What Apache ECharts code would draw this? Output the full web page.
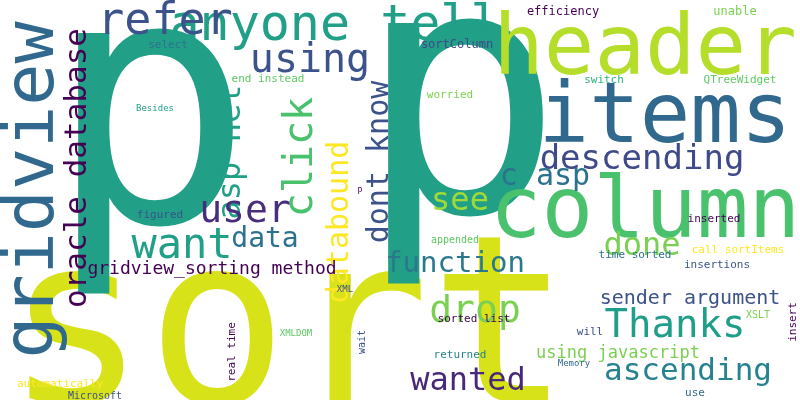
<!DOCTYPE html>
<html>
<head>
<meta charset="utf-8">
<script src="https://cdn.jsdelivr.net/npm/echarts@6/dist/echarts.min.js"></script>
<style>html,body{margin:0;padding:0;background:#fff}#chart{width:800px;height:400px}</style>
</head>
<body>
<div id="chart"></div>
<script>
// word cloud data (word, centre x, centre y, font size, rotation, colour)
const words = ['sort','p','p','header','items','column','gridview','anyone tell','refer','using',
  'oracle database','asp net','click','user','want','data','databound','dont know','descending','c asp',
  'see','function','done','Thanks','drop','sender argument','ascending','wanted','using javascript','gridview_sorting method',
  'efficiency','unable','select','sortColumn','switch','QTreeWidget','end instead','worried','Besides','current',
  'figured','inserted','P','appended','time sorted','call sortItems','insertions','insert','XML','XSLT',
  'sorted list','XMLDOM','will','wait','returned','real time','Memory','automatically','Microsoft','use'];
const xs = [288,150,460,645,665,645,35,335,165,310,
  78,232,302,245,182,265,340,380,642,545,
  460,455,642,675,475,690,688,468,618,212,
  563,735,168,457,604,740,268,450,155,218,
  160,714,360,455,635,738,717,793,345,758,
  474,296,590,362,460,232,574,60,95,695];
const ys = [342,132,122,52,120,215,190,27,22,62,
  168,152,157,212,247,240,222,162,160,177,
  202,264,247,327,312,299,372,382,354,269,
  12,12,45,45,80,80,79,95,109,162,
  215,219,192,240,255,250,265,322,290,315,
  319,334,332,342,355,352,364,384,396,393];
const sizes = [235,345,345,84,84,86,70,50,45,40,
  31,32,40,38,42,28,30,30,34,30,
  32,29,32,39,38,20,31,32,17,18,
  12,12,11,12,11,11,11,11,9,10,
  11,11,8,10,11,11,11,11,9,10,
  11,9,11,10,11,11,9,11,10,11];
const rotations = [0,0,0,0,0,0,90,0,0,0,
  90,90,90,0,0,0,90,90,0,0,
  0,0,0,0,0,0,0,0,0,0,
  0,0,0,0,0,0,0,0,0,90,
  0,0,0,0,0,0,0,90,0,0,
  0,0,0,90,0,90,0,0,0,0];
const colors = ['#d8e219','#21a087','#21a087','#b5de2b','#31688e','#4ac16d','#31688e','#21a087','#3b528b','#3b528b',
  '#440154','#21a087','#4ac16d','#472d7b','#21a087','#2c728e','#fde725','#3b528b','#3e4a89','#2c728e',
  '#a0da39','#2a788e','#7ad151','#1f9e89','#7ad151','#3b528b','#26828e','#482878','#7ad151','#440154',
  '#440154','#7ad151','#2c728e','#3e4a89','#2db27d','#5ec962','#5ec962','#7ad151','#1f9e89','#21a087',
  '#3b528b','#440154','#440154','#5ec962','#2c728e','#fde725','#3b528b','#440154','#3b528b','#7ad151',
  '#440154','#5ec962','#3b528b','#3b528b','#26828e','#440154','#31688e','#fde725','#3b528b','#31688e'];

const chart = echarts.init(document.getElementById('chart'));
const data = words.map((w, i) => ({
  value: [xs[i], ys[i]],
  label: { formatter: w, fontSize: sizes[i], rotate: rotations[i], color: colors[i] }
}));

chart.setOption({
  backgroundColor: '#ffffff',
  animation: false,
  grid: { left: 0, right: 0, top: 0, bottom: 0 },
  xAxis: { type: 'value', min: 0, max: 800, show: false },
  yAxis: { type: 'value', min: 0, max: 400, inverse: true, show: false },
  series: [{
    type: 'scatter',
    symbolSize: 0,
    itemStyle: { opacity: 1 },
    data: data,
    label: {
      show: true,
      position: 'inside',
      fontFamily: 'DejaVu Sans Mono',
      align: 'center',
      verticalAlign: 'middle'
    },
    emphasis: { disabled: true },
    labelLayout: { hideOverlap: false }
  }]
});
</script>
</body>
</html>
